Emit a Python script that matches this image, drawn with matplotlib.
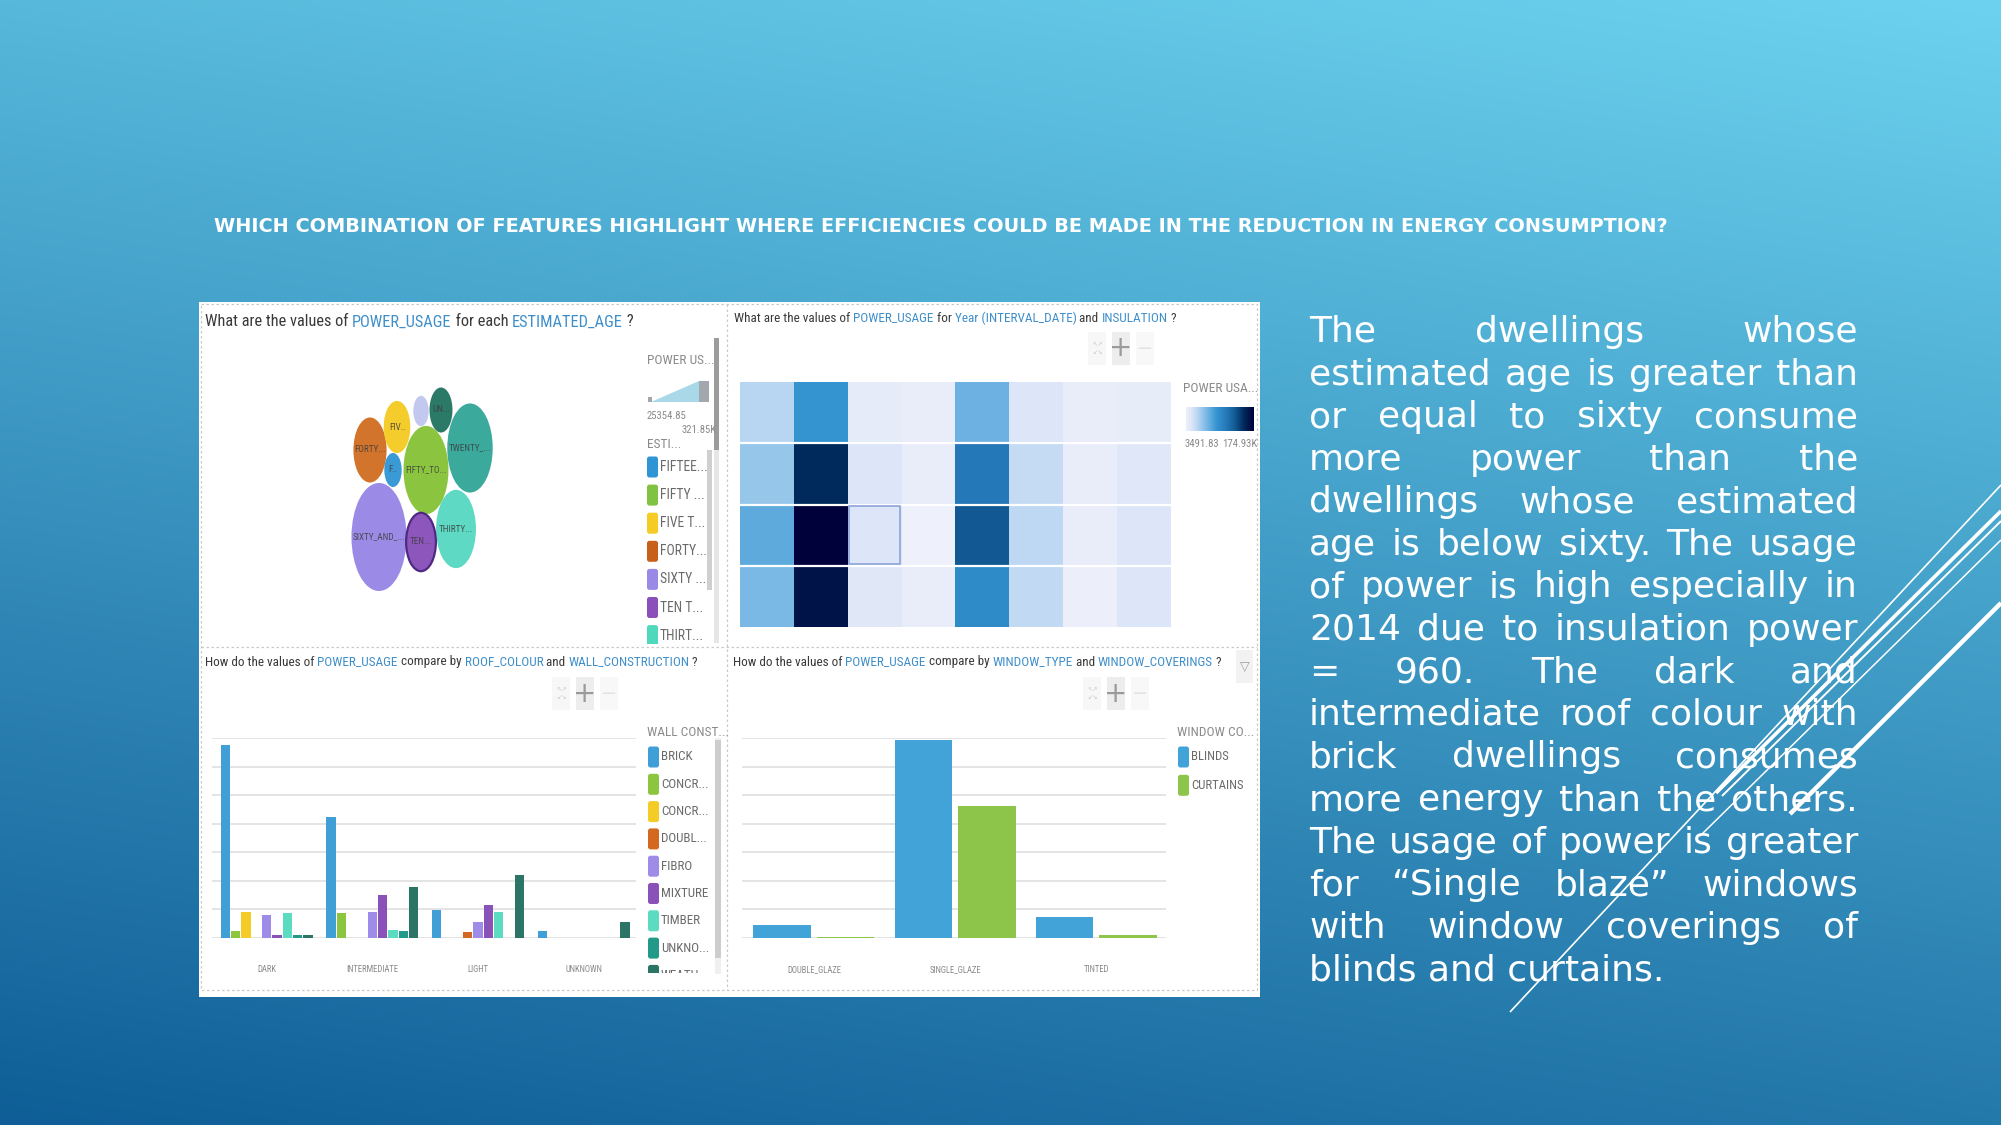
import numpy as np
import matplotlib
matplotlib.use("Agg")
import matplotlib.pyplot as plt
from matplotlib.colors import LinearSegmentedColormap, to_rgb
from matplotlib.patches import Rectangle, Ellipse, FancyBboxPatch, Polygon
from matplotlib.transforms import Bbox, TransformedBbox

W, H = 2001, 1125

##### slide text
slide_title = ("WHICH COMBINATION OF FEATURES HIGHLIGHT WHERE EFFICIENCIES COULD BE MADE "
               "IN THE REDUCTION IN ENERGY CONSUMPTION?")
body_lines = [
    "The dwellings whose",
    "estimated age is greater than",
    "or equal to sixty consume",
    "more power than the",
    "dwellings whose estimated",
    "age is below sixty. The usage",
    "of power is high especially in",
    "2014 due to insulation power",
    "= 960. The dark and",
    "intermediate roof colour with",
    "brick dwellings consumes",
    "more energy than the others.",
    "The usage of power is greater",
    "for \u201cSingle blaze\u201d windows",
    "with window coverings of",
    "blinds and curtains.",
]

##### panel 1: power usage by estimated age (K)
age_names = ["FORTY", "FIVE", "ZERO", "UNKNOWN", "TWENTY", "FIFTEEN",
             "FIFTY", "SIXTY", "TEN", "THIRTY"]
age_bubble_labels = ["FORTY...", "FIV..", "", "UN...", "TWENTY_...", "F..",
                     "FIFTY_TO...", "SIXTY_AND_...", "TEN...", "THIRTY..."]
age_power = [116.8, 75.2, 25.35485, 56.0, 219.0, 32.0, 214.6, 321.85, 94.0, 169.0]
age_colors = ["#D2742C", "#F4CC2C", "#C3C9EE", "#2B7A68", "#3BA99C", "#3A9AD5",
              "#8BC540", "#9C8BE6", "#8C56BC", "#5DD9C4"]
# packed layout of the bubbles (pixel centres)
bubble_x = [370, 397, 421, 441, 470, 393, 426, 379, 421, 456]
bubble_y = [450, 427, 411, 410, 448, 470, 470, 537, 542, 529]
age_legend = ["FIFTEE...", "FIFTY ...", "FIVE T...", "FORTY...", "SIXTY ...", "TEN T...", "THIRT..."]
age_legend_colors = ["#2F95D5", "#80C342", "#F5CB25", "#C8601A", "#9A8AE6", "#8A4FB8", "#4FD8BC"]
size_min_label, size_max_label = "25354.85", "321.85K"

##### panel 2: power usage by year and insulation (K)
heat_values = np.array([
    [32.6, 80.6, 10.4, 6.9, 60.1, 17.2, 6.9, 8.6],
    [44.6, 149.2, 17.2, 6.9, 106.4, 27.5, 6.9, 15.5],
    [65.2, 174.93, 17.2, 3.49183, 126.9, 30.9, 6.9, 17.2],
    [54.9, 162.9, 13.8, 6.9, 89.2, 29.2, 5.2, 17.2],
])
heat_min, heat_max = 3.49183, 174.93
heat_min_label, heat_max_label = "3491.83", "174.93K"

##### panel 3: power usage by roof colour and wall construction (K)
roof_colours = ["DARK", "INTERMEDIATE", "LIGHT", "UNKNOWN"]
wall_types = ["BRICK", "CONCR...", "CONCR...", "DOUBL...", "FIBRO", "MIXTURE",
              "TIMBER", "UNKNO...", "WEATH..."]
wall_colors = ["#419FD8", "#8CC63F", "#F5CB25", "#D2691E", "#9E8CE8", "#8A52B8",
               "#5CDBC0", "#23998A", "#2A7565"]
power_dark = [135.0, 4.6, 18.5, 0, 16.2, 2.3, 17.8, 2.3, 2.3]
power_intermediate = [84.6, 17.8, 0, 0, 18.5, 30.1, 5.8, 4.6, 35.9]
power_light = [19.7, 0, 0, 3.9, 10.9, 23.2, 18.5, 0, 44.0]
power_unknown = [4.6, 0, 0, 0, 0, 0, 0, 0, 10.9]

##### panel 4: power usage by window type and covering (K)
window_types = ["DOUBLE_GLAZE", "SINGLE_GLAZE", "TINTED"]
coverings = ["BLINDS", "CURTAINS"]
blinds = [9.3, 138.6, 14.4]
curtains = [0.9, 92.7, 2.3]
covering_colors = ["#42A3D8", "#8DC54A"]

NARROW = ["Roboto Condensed", "Liberation Sans Narrow", "Roboto", "DejaVu Sans"]
DARK_TXT = "#3a3a3a"
BLUE_TXT = "#3F8FCB"
LEG_TXT = "#6A6A6A"
LIGHT_TXT = "#8A8A8A"

fig = plt.figure(figsize=(W / 100, H / 100), dpi=100)
r = fig.canvas.get_renderer()
bg = fig.add_axes([0, 0, 1, 1])
bg.set_xlim(0, W)
bg.set_ylim(H, 0)
bg.axis("off")

# background gradient
yy, xx = np.mgrid[0:1:120j, 0:1:200j]
tl, tr = np.array(to_rgb("#57B8DB")), np.array(to_rgb("#6CD2EF"))
bl, br = np.array(to_rgb("#0F5E97")), np.array(to_rgb("#2479AB"))
xx, yy = xx[..., None], yy[..., None]
grad = tl * (1 - xx) * (1 - yy) + tr * xx * (1 - yy) + bl * (1 - xx) * yy + br * xx * yy
bg.imshow(grad, extent=[0, W, H, 0], aspect="auto", zorder=0, interpolation="bilinear")


def px_axes(x0, y0, x1, y1):
    return fig.add_axes([x0 / W, 1 - y1 / H, (x1 - x0) / W, (y1 - y0) / H])


def width_px(t):
    return t.get_window_extent(renderer=r).width


def size_for(s, width, family=NARROW):
    # font size that makes s about `width` pixels wide
    t = bg.text(0, 0, s, fontsize=10, family=family)
    w = width_px(t)
    t.remove()
    return 10 * width / w


def seg_title(x, y, segments, width):
    # draw a multi-coloured line of text, segment after segment
    size = size_for("".join(s for s, _ in segments), width)
    bar = bg.text(0, 0, "|", fontsize=size, family=NARROW)
    wbar = width_px(bar)
    bar.remove()
    full = ""
    for s, c in segments:
        dx = 0
        if full:
            probe = bg.text(0, 0, full + "|", fontsize=size, family=NARROW)
            dx = width_px(probe) - wbar
            probe.remove()
        bg.text(x + dx, y, s, fontsize=size, family=NARROW, color=c, va="center", zorder=5)
        full += s


def small(x, y, s, size, color=LIGHT_TXT, ha="left"):
    return bg.text(x, y, s, fontsize=size, family=NARROW, color=color, va="center", ha=ha, zorder=4)


# slide title
t = bg.text(214, 227, slide_title, fontsize=14, weight="bold", color="white", va="center")
t.set_fontsize(14 * 1456 / width_px(t))

# justified body text
x_left, x_right = 1309, 1858
for i, line in enumerate(body_lines):
    y = 332 + i * 42.55
    words = line.split(" ")
    if i == len(body_lines) - 1:
        bg.text(x_left, y, line, fontsize=26, color="white", va="center")
        continue
    ts = [bg.text(0, y, w_, fontsize=26, color="white", va="center") for w_ in words]
    ws = [width_px(t_) for t_ in ts]
    gap = (x_right - x_left - sum(ws)) / max(len(words) - 1, 1)
    cx = x_left
    for t_, w_ in zip(ts, ws):
        t_.set_x(cx)
        cx += w_ + gap

# decorative lines
deco = [((2001, 485), (1510, 1012), 1.2), ((2001, 511), (1716, 793), 2.6),
        ((2001, 521), (1722, 796), 1.4), ((2001, 540), (1700, 836), 1.1),
        ((2001, 603), (1790, 814), 3.2)]
for (x0, y0), (x1, y1), lw in deco:
    bg.plot([x0, x1], [y0, y1], color="white", lw=lw, solid_capstyle="butt", zorder=6)

# dashboard panel
bg.add_patch(Rectangle((199, 302), 1061, 695, fc="white", ec="none", zorder=1))
bg.add_patch(Rectangle((201, 304), 1056, 686, fc="none", ec="#C9C9C9", lw=0.9, ls=(0, (2, 2)), zorder=2))
bg.plot([727, 727], [304, 990], color="#C9C9C9", lw=0.9, ls=(0, (2, 2)), zorder=2)
bg.plot([201, 1257], [647, 647], color="#C9C9C9", lw=0.9, ls=(0, (2, 2)), zorder=2)

seg_title(205, 322, [("What are the values of ", DARK_TXT), ("POWER_USAGE", BLUE_TXT),
                     (" for each ", DARK_TXT), ("ESTIMATED_AGE", BLUE_TXT), (" ?", DARK_TXT)], 381 * 1.12)
seg_title(734, 318, [("What are the values of ", DARK_TXT), ("POWER_USAGE", BLUE_TXT),
                     (" for ", DARK_TXT), ("Year (INTERVAL_DATE)", BLUE_TXT), (" and ", DARK_TXT),
                     ("INSULATION", BLUE_TXT), (" ?", DARK_TXT)], 394 * 1.12)
seg_title(205, 662, [("How do the values of ", DARK_TXT), ("POWER_USAGE", BLUE_TXT),
                     (" compare by ", DARK_TXT), ("ROOF_COLOUR", BLUE_TXT), (" and ", DARK_TXT),
                     ("WALL_CONSTRUCTION", BLUE_TXT), (" ?", DARK_TXT)], 450 * 1.1)
seg_title(733, 662, [("How do the values of ", DARK_TXT), ("POWER_USAGE", BLUE_TXT),
                     (" compare by ", DARK_TXT), ("WINDOW_TYPE", BLUE_TXT), (" and ", DARK_TXT),
                     ("WINDOW_COVERINGS", BLUE_TXT), (" ?", DARK_TXT)], 445 * 1.1)


def zoom_ctrl(x_exp, x_plus, x_minus, y0, y1, w=18):
    bg.add_patch(Rectangle((x_exp, y0), w, y1 - y0, fc="#F7F7F7", ec="none", zorder=3))
    bg.add_patch(Rectangle((x_plus, y0), w, y1 - y0, fc="#EDEDED", ec="none", zorder=3))
    bg.add_patch(Rectangle((x_minus, y0), w, y1 - y0, fc="#F8F8F8", ec="none", zorder=3))
    ym = (y0 + y1) / 2
    bg.text(x_exp + w / 2, ym, "\u2196\u2197\n\u2199\u2198", fontsize=4.5, color="#C8C8C8",
            ha="center", va="center", linespacing=1.6, zorder=4)
    bg.text(x_plus + w / 2, ym, "+", fontsize=20, color="#9A9A9A", ha="center", va="center", zorder=4)
    bg.text(x_minus + w / 2, ym, "\u2212", fontsize=14, color="#E2E2E2", ha="center", va="center", zorder=4)


zoom_ctrl(1088, 1112, 1136, 332, 365)
zoom_ctrl(552, 576, 600, 677, 710)
zoom_ctrl(1083, 1107, 1131, 677, 710)
bg.add_patch(Rectangle((1236, 650), 17, 33, fc="#F2F2F2", ec="none", zorder=3))
bg.text(1244.5, 666, "\u25BD", fontsize=9, color="#A0A0A0", ha="center", va="center", zorder=4)


def legend_items(x, y0, step, labels, colors, size, clip_y=None, sw=11, sh=21):
    for i, (lab, c) in enumerate(zip(labels, colors)):
        y = y0 + i * step
        p = FancyBboxPatch((x, y - sh / 2), sw, sh, boxstyle="round,pad=0,rounding_size=2.5",
                           fc=c, ec="none", zorder=4)
        bg.add_patch(p)
        tx = small(x + sw + 2, y, lab, size, color=LEG_TXT)
        if clip_y is not None:
            cb = TransformedBbox(Bbox([[x - 5, 0], [x + 120, clip_y]]), bg.transData)
            for a in (p, tx):
                a.set_clip_box(cb)
                a.set_clip_on(True)


leg_title_size = size_for("WALL CONST...", 73) * 1.12
num_size = size_for("25354.85", 35.5) * 1.12
axis_size = size_for("INTERMEDIATE", 48) * 1.1
bubble_size = size_for("SIXTY_AND_...", 47) * 1.1

# ---- panel 1: bubbles
for xc, yc, v, c, lab in zip(bubble_x, bubble_y, age_power, age_colors, age_bubble_labels):
    e = Ellipse((xc, yc), 3.07 * np.sqrt(v), 6.02 * np.sqrt(v), fc=c, ec="none", zorder=3)
    bg.add_patch(e)
    bg.text(xc, yc, lab, fontsize=bubble_size, family=NARROW, color="#3d3d3d", alpha=0.85,
            ha="center", va="center", zorder=4)
i_ten = age_names.index("TEN")
bg.add_patch(Ellipse((bubble_x[i_ten], bubble_y[i_ten]), 3.07 * np.sqrt(age_power[i_ten]),
                     6.02 * np.sqrt(age_power[i_ten]), fc="none", ec="#4E2A80", lw=1.6, zorder=4))

small(647, 361, "POWER US...", leg_title_size)
bg.add_patch(Polygon([(651, 402), (699, 381), (699, 402)], closed=True, fc="#A9D9E9", ec="none", zorder=4))
bg.add_patch(Rectangle((699, 381), 10, 21, fc="#A3A7AE", ec="none", zorder=4))
bg.add_patch(Rectangle((648, 397), 4, 5, fc="#A3A7AE", ec="none", zorder=4))
small(647, 416, size_min_label, num_size)
small(717, 430, size_max_label, num_size, ha="right")
small(647, 444, "ESTI...", leg_title_size)
legend_items(647, 467, 28.1, age_legend, age_legend_colors, size_for("FIFTEE...", 40) * 1.2, clip_y=644)
bg.add_patch(Rectangle((714, 338), 5, 305, fc="#E6E6E6", ec="none", zorder=3))
bg.add_patch(Rectangle((714, 338), 5, 112, fc="#9C9C9C", ec="none", zorder=3))
bg.add_patch(Rectangle((707, 450), 5, 140, fc="#CFCFCF", ec="none", zorder=3))

# ---- panel 2: heatmap
cmap = LinearSegmentedColormap.from_list("pu", [
    (0.0, "#EEF0FB"), (0.08, "#DCE6F8"), (0.16, "#BDD7F3"), (0.3, "#7AB9E6"),
    (0.45, "#3595D0"), (0.6, "#2478B8"), (0.72, "#135A94"), (0.85, "#012B5C"), (1.0, "#00003A")])
axh = px_axes(740, 382, 1171, 627)
axh.imshow(heat_values, cmap=cmap, vmin=heat_min, vmax=heat_max, aspect="auto", interpolation="nearest")
for yb in np.arange(0.5, heat_values.shape[0] - 0.5):
    axh.axhline(yb, color="white", lw=1.6)
axh.add_patch(Rectangle((1.53, 1.53), 0.94, 0.94, fc="none", ec="#8EA4DA", lw=1.2, zorder=4))
axh.axis("off")

small(1183, 389, "POWER USA...", leg_title_size)
axc = px_axes(1186, 407, 1254, 431)
axc.imshow(np.linspace(heat_min, heat_max, 256)[None, :], cmap=cmap, vmin=heat_min, vmax=heat_max,
           aspect="auto")
axc.axis("off")
small(1185, 444, heat_min_label, num_size)
small(1257, 444, heat_max_label, num_size, ha="right")


def style_bars(ax):
    ax.set_ylim(0, 140)
    ax.set_yticks(np.arange(0, 141, 20))
    ax.grid(axis="y", color="#E4E4E4", lw=1.4, zorder=0)
    ax.set_axisbelow(True)
    for s in ax.spines.values():
        s.set_visible(False)
    ax.tick_params(left=False, bottom=False, labelleft=False, labelbottom=False)
    ax.set_facecolor("none")


# ---- panel 3: grouped bars by roof colour
axb = px_axes(212, 738, 636, 938)
groups = [power_dark, power_intermediate, power_light, power_unknown]
gstep = 10.24
for gi, vals in enumerate(groups):
    xs = gi * gstep + np.arange(len(wall_types))
    axb.bar(xs, vals, width=0.9, color=wall_colors, zorder=3)
axb.set_xlim(-1.3, 39.8)
style_bars(axb)
for gi, name in enumerate(roof_colours):
    axb.text(gi * gstep + 4, -0.16, name, transform=axb.get_xaxis_transform(), fontsize=axis_size,
             family=NARROW, color=LIGHT_TXT, ha="center", va="center")
small(647, 732, "WALL CONST...", leg_title_size)
legend_items(648, 757, 27.3, wall_types, wall_colors, size_for("MIXTURE", 41.6) * 1.15, clip_y=973)
bg.add_patch(Rectangle((715, 738), 6, 236, fc="#F0F0F0", ec="none", zorder=3))
bg.add_patch(Rectangle((715, 740), 6, 218, fc="#CDCDCD", ec="none", zorder=3))

# ---- panel 4: window type vs covering
axw = px_axes(742, 738, 1166, 938)
xw = np.arange(len(window_types))
axw.bar(xw - 0.2245, blinds, width=0.409, color=covering_colors[0], zorder=3)
axw.bar(xw + 0.2245, curtains, width=0.409, color=covering_colors[1], zorder=3)
axw.set_xlim(-0.51, 2.495)
style_bars(axw)
for xi, name in zip(xw, window_types):
    axw.text(xi, -0.16, name, transform=axw.get_xaxis_transform(), fontsize=axis_size,
             family=NARROW, color=LIGHT_TXT, ha="center", va="center")
small(1177, 732, "WINDOW CO...", leg_title_size)
legend_items(1178, 757, 28.3, coverings, covering_colors, size_for("CURTAINS", 46) * 1.15)

fig.savefig("out.png", dpi=100)
